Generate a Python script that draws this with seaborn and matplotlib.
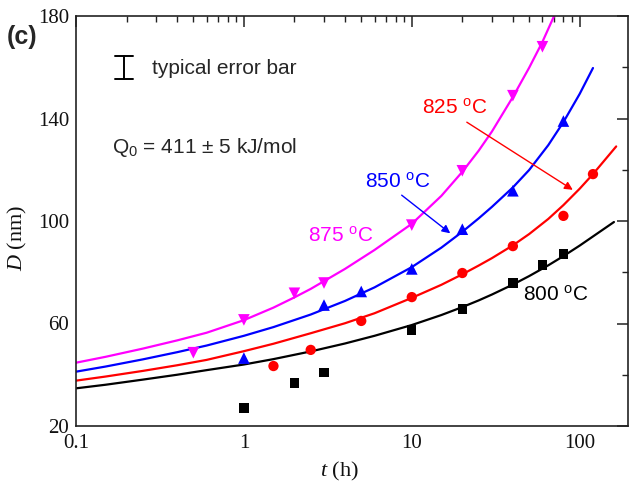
import matplotlib
matplotlib.use("Agg")
import matplotlib.pyplot as plt
import seaborn as sns
import numpy as np
from matplotlib.ticker import LogLocator, FixedLocator, NullFormatter, FixedFormatter

# ---------------- data (measured points) ----------------
t800 = [1, 2, 3, 10, 20, 40, 60, 80]
D800 = [27.0, 36.8, 41.0, 57.5, 65.7, 75.8, 82.8, 87.1]

t825 = [1.5, 2.5, 5, 10, 20, 40, 80, 120]
D825 = [43.4, 49.7, 61.0, 70.3, 79.7, 90.2, 102.0, 118.3]

t850 = [1, 3, 5, 10, 20, 40, 80]
D850 = [46.5, 67.2, 72.5, 81.3, 96.8, 111.8, 139.0]

t875 = [0.5, 1, 2, 3, 10, 20, 40, 60]
D875 = [48.6, 61.4, 71.8, 75.8, 98.4, 119.6, 148.9, 168.0]

# ---------------- fitted curves ----------------
fit_t800 = [0.1, 0.15, 0.25, 0.4, 0.6, 1, 1.5, 2.5, 4, 6, 10, 15, 20, 25, 30, 40, 50, 65, 80, 100, 160]
fit_D800 = [34.7, 36.1, 38.1, 40.0, 41.8, 44.0, 46.1, 49.1, 52.2, 55.2, 59.4, 63.3, 66.4, 69.0, 71.3,
            75.2, 78.5, 82.7, 86.3, 90.4, 99.6]

fit_t825 = [0.1, 0.15, 0.25, 0.4, 0.6, 1, 1.5, 2.5, 4, 6, 10, 15, 20, 25, 30, 40, 50, 65, 80, 100, 120, 165]
fit_D825 = [37.7, 39.3, 41.5, 43.7, 45.8, 49.2, 52.1, 56.2, 60.1, 64.0, 70.0, 75.1, 79.2, 82.6, 85.5,
            90.5, 94.9, 100.8, 106.2, 112.6, 118.3, 129.1]

fit_t850 = [0.1, 0.15, 0.25, 0.4, 0.6, 1, 1.5, 2.5, 4, 6, 10, 15, 20, 25, 30, 40, 50, 65, 80, 100, 120]
fit_D850 = [41.2, 43.2, 46.0, 48.8, 51.4, 55.2, 58.6, 63.5, 68.8, 74.1, 82.0, 89.6, 95.8, 101.0, 105.5,
            113.1, 119.9, 129.6, 138.6, 149.6, 159.7]

fit_t875 = [0.1, 0.15, 0.25, 0.4, 0.6, 1, 1.5, 2, 2.5, 4, 6, 10, 15, 20, 25, 30, 40, 50, 60, 75]
fit_D875 = [44.7, 47.0, 50.2, 53.4, 56.4, 61.3, 66.2, 70.2, 73.5, 81.3, 88.7, 98.9, 109.8, 119.2, 127.4,
            134.9, 148.4, 159.8, 169.9, 184.0]

labels = ["800", "825", "850", "875"]
colors = ["#000000", "#ff0000", "#0000ff", "#ff00ff"]
markers = ["s", "o", "^", "v"]
sizes = [45, 55, 70, 70]

x_ticks = [0.1, 1, 10, 100]
x_ticklabels = ["0.1", "1", "10", "100"]
y_ticks = [20, 60, 100, 140, 180]
y_minor = [40, 80, 120, 160]

# ---------------- style ----------------
sns.set_theme(style="white")
plt.rcParams["font.family"] = ["Liberation Serif", "DejaVu Serif"]
plt.rcParams["mathtext.fontset"] = "custom"
plt.rcParams["mathtext.rm"] = "Liberation Sans"
plt.rcParams["mathtext.it"] = "Liberation Serif:italic"
SANS = ["Liberation Sans", "DejaVu Sans"]

fig = plt.figure(figsize=(6.32, 4.92), dpi=100)
ax = fig.add_axes([76 / 632, 1 - 426 / 492, (628 - 76) / 632, (426 - 16) / 492])

pts = [(t800, D800), (t825, D825), (t850, D850), (t875, D875)]
fits = [(fit_t800, fit_D800), (fit_t825, fit_D825), (fit_t850, fit_D850), (fit_t875, fit_D875)]

for (ft, fd), c in zip(fits, colors):
    sns.lineplot(x=ft, y=fd, color=c, lw=1.6, ax=ax, sort=True, estimator=None)
for (pt, pd_), c, m, s in zip(pts, colors, markers, sizes):
    sns.scatterplot(x=pt, y=pd_, color=c, marker=m, s=s, edgecolor="none", ax=ax, zorder=3)

ax.set_xscale("log")
ax.set_xlim(0.1, 194)
ax.set_ylim(20, 180)

ax.xaxis.set_major_locator(FixedLocator(x_ticks))
ax.xaxis.set_major_formatter(FixedFormatter(x_ticklabels))
ax.xaxis.set_minor_locator(LogLocator(base=10, subs=np.arange(2, 10)))
ax.xaxis.set_minor_formatter(NullFormatter())
ax.yaxis.set_major_locator(FixedLocator(y_ticks))
ax.yaxis.set_minor_locator(FixedLocator(y_minor))

ax.tick_params(which="both", direction="in", top=True, right=True, colors="#222222",
               labelsize=15, labelcolor="#111111")
ax.tick_params(which="major", length=8, width=1.1, pad=6)
ax.tick_params(which="minor", length=4.5, width=1.0)
ax.tick_params(axis="y", which="major", pad=5)
for sp in ax.spines.values():
    sp.set_visible(True)
    sp.set_color("#222222")
    sp.set_linewidth(1.2)

ax.set_xlabel("$\\mathit{t}$ (h)", fontsize=16, color="#111111")
ax.set_ylabel("$\\mathit{D}$ (nm)", fontsize=16, color="#111111")
ax.xaxis.set_label_coords(0.478, -0.083)
ax.yaxis.set_label_coords(-0.085, 0.46)

# ---------------- annotations ----------------
fig.text(0.011, 0.925, "(c)", fontsize=18, fontweight="bold", family=SANS, va="center", ha="left")

# typical error bar symbol
ax.plot([0.087, 0.087], [0.846, 0.902], color="black", lw=1.4, transform=ax.transAxes, clip_on=False)
ax.plot([0.071, 0.103], [0.902, 0.902], color="black", lw=1.4, transform=ax.transAxes, clip_on=False)
ax.plot([0.071, 0.103], [0.846, 0.846], color="black", lw=1.4, transform=ax.transAxes, clip_on=False)
ax.text(0.138, 0.873, "typical error bar", fontsize=15, family=SANS, va="center", ha="left",
        transform=ax.transAxes)
ax.text(0.065, 0.68, "Q$_0$ = 411 ± 5 kJ/mol", fontsize=15, family=SANS, va="center", ha="left",
        transform=ax.transAxes)

lab_pos = [(0.810, 0.320), (0.627, 0.776), (0.524, 0.595), (0.420, 0.463)]
for lab, c, (lx, ly) in zip(labels, colors, lab_pos):
    ax.text(lx, ly, lab + " $^{\\mathrm{o}}$C", fontsize=15, family=SANS, color=c,
            va="center", ha="left", transform=ax.transAxes)

ax.annotate("", xy=(0.678, 0.470), xytext=(0.590, 0.563), xycoords="axes fraction",
            arrowprops=dict(arrowstyle="-|>", color="#0000ff", lw=1.0, mutation_scale=12,
                            shrinkA=0, shrinkB=0))
ax.annotate("", xy=(0.900, 0.576), xytext=(0.708, 0.741), xycoords="axes fraction",
            arrowprops=dict(arrowstyle="-|>", color="#ff0000", lw=1.0, mutation_scale=12,
                            shrinkA=0, shrinkB=0))

fig.savefig("out.png", dpi=100)
